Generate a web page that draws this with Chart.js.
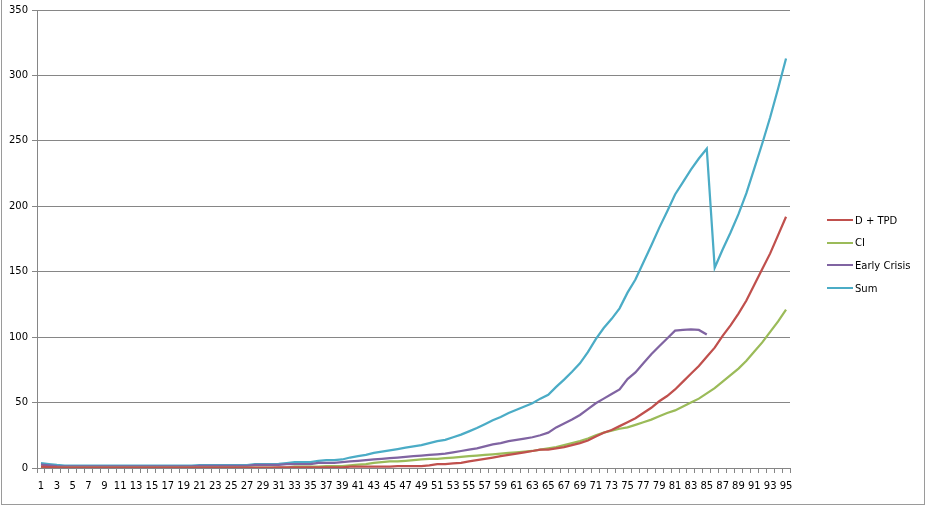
<!DOCTYPE html>
<html lang="en">
<head>
  <meta charset="UTF-8">
  <title>D + TPD, CI, Early Crisis, Sum</title>
  <script src="https://cdn.jsdelivr.net/npm/chart.js"></script>
  <style>
    body { margin: 0; background: #fff; }
    #wrap { position: relative; width: 926px; height: 510px; }
    #frame { position: absolute; left: 1px; top: -1px; width: 922px; height: 504px; border: 1px solid #9a9a9a; pointer-events: none; }
    #legend { position: absolute; left: 827px; top: 209px; font: 10px 'DejaVu Sans', sans-serif; color: #000; }
    #legend div { height: 22.6px; display: flex; align-items: center; }
    #legend span { display: inline-block; width: 26px; height: 2px; margin-right: 2px; }
  </style>
</head>
<body>
  <div id="wrap">
    <canvas id="chart" width="926" height="510"></canvas>
    <div id="frame"></div>
    <div id="legend"></div>
  </div>

  <script>
    const days = [1,2,3,4,5,6,7,8,9,10,11,12,13,14,15,16,17,18,19,20,
      21,22,23,24,25,26,27,28,29,30,31,32,33,34,35,36,37,38,39,40,
      41,42,43,44,45,46,47,48,49,50,51,52,53,54,55,56,57,58,59,60,
      61,62,63,64,65,66,67,68,69,70,71,72,73,74,75,76,77,78,79,80,
      81,82,83,84,85,86,87,88,89,90,91,92,93,94,95];

    const dTpd = [1,0.7,0.5,0.3,0.3,0.3,0.3,0.3,0.3,0.3,
      0.3,0.3,0.3,0.3,0.3,0.3,0.3,0.3,0.3,0.3,
      0.3,0.3,0.3,0.3,0.3,0.3,0.3,0.3,0.3,0.3,
      0.5,0.5,0.5,0.5,0.5,0.5,0.5,0.5,0.5,1,
      1,1,1,1,1,1.5,1.5,1.5,1.5,2,
      3,3,3.5,4,5,6,7,8,9,10,
      11,12,13,14,14,15,16,17.5,19,21,
      24,27,29,32,35,38,42,46,51,55,
      60,66,72,78,85,92,101,109,118,128,
      140,152,164,178,192];

    const ci = [0.3,0.3,0.3,0.3,0.3,0.3,0.3,0.3,0.3,0.3,
      0.3,0.3,0.3,0.3,0.3,0.3,0.3,0.3,0.3,0.3,
      0.3,0.3,0.3,0.3,0.3,0.3,0.3,0.3,0.3,0.3,
      0.3,0.3,1,1,1,1,1.5,1.5,1.5,2,
      2.5,3,4,4.5,5,5,5.5,6,6.5,7,
      7,7.5,8,8.5,9,9.5,10,10.5,11,11.5,
      12,12.5,13,14,15,16,17.5,19,20.5,22.5,
      25,27,28.5,30,31,33,35,37,39.5,42,
      44,47,50,53,57,61,66,71,76,82,
      89,96,104,112,121];

    const earlyCrisis = [2.5,2,1.5,1.3,1.3,1.3,1.3,1.3,1.3,1.3,
      1.3,1.3,1.3,1.3,1.3,1.3,1.3,1.3,1.3,1.3,
      1.6,1.6,1.6,1.6,1.6,1.6,1.6,2.3,2.3,2.3,
      2.3,3,3,3,3,4,4,4,4.5,5,
      5.5,6,6.5,7,7.5,8,8.5,9,9.5,10,
      10.5,11,12,13,14,15,16.5,18,19,20.5,
      21.5,22.5,23.5,25,27,31,34,37,40.5,45,
      49.5,53,56.5,60,68,73,80,87,93,99,
      105,105.5,106,105.5,102,null,null,null,null,null,
      null,null,null,null,null];

    const sum = [3.8,3,2.3,1.9,1.9,1.9,1.9,1.9,1.9,1.9,
      1.9,1.9,1.9,1.9,1.9,1.9,1.9,1.9,1.9,1.9,
      2.2,2.2,2.2,2.2,2.2,2.2,2.2,2.9,2.9,2.9,
      3.1,3.8,4.5,4.5,4.5,5.5,6,6,6.5,8,
      9,10,11.5,12.5,13.5,14.5,15.5,16.5,17.5,19,
      20.5,21.5,23.5,25.5,28,30.5,33.5,36.5,39,42,
      44.5,47,49.5,53,56,62,67.5,73.5,80,88.5,
      98.5,107,114,122,134,144,157,170,183.5,196,
      209,218.5,228,236.5,244,153,167,180,194,210,
      229,248,268,290,313];

    const yTicks = [0, 50, 100, 150, 200, 250, 300, 350];

    Chart.defaults.font.family = "'DejaVu Sans', sans-serif";
    Chart.defaults.font.size = 10;
    Chart.defaults.color = '#000';

    const gridColor = '#868686';

    function line(label, data, color) {
      return {
        label, data,
        borderColor: color, backgroundColor: color,
        borderWidth: 2.25, pointRadius: 0, tension: 0, spanGaps: false
      };
    }

    const chart = new Chart(document.getElementById('chart'), {
      type: 'line',
      data: {
        labels: days,
        datasets: [
          line('D + TPD', dTpd, '#C0504D'),
          line('CI', ci, '#9BBB59'),
          line('Early Crisis', earlyCrisis, '#8064A2'),
          line('Sum', sum, '#4BACC6')
        ]
      },
      options: {
        responsive: false,
        animation: false,
        layout: { padding: { top: 10, right: 136, left: 0, bottom: 0 } },
        plugins: { legend: { display: false }, tooltip: { enabled: false } },
        scales: {
          x: {
            offset: true,
            grid: { offset: true, drawOnChartArea: false, color: gridColor, tickLength: 5 },
            border: { color: gridColor },
            ticks: {
              autoSkip: false, maxRotation: 0, padding: 7,
              callback: (v, i) => i % 2 === 0 ? days[i] : ''
            },
            afterFit: s => { s.height = 42; }
          },
          y: {
            min: 0, max: 350,
            afterBuildTicks: s => { s.ticks = yTicks.map(v => ({ value: v })); },
            grid: { color: gridColor, tickLength: 5 },
            border: { color: gridColor },
            ticks: { padding: 4 },
            afterFit: s => { s.width = 37; }
          }
        }
      }
    });

    // legend as html, built from the datasets
    const legend = document.getElementById('legend');
    chart.data.datasets.forEach(ds => {
      const row = document.createElement('div');
      row.innerHTML = '<span style="background:' + ds.borderColor + '"></span>' + ds.label;
      legend.appendChild(row);
    });
  </script>
</body>
</html>
